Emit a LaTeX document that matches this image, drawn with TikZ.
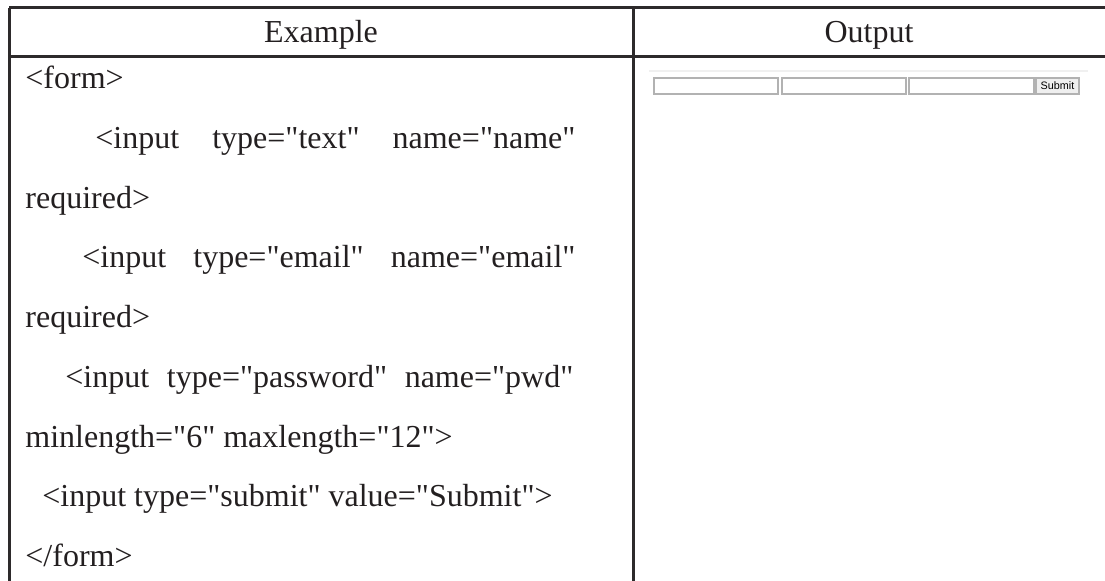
\documentclass[tikz,border=0pt]{standalone}
\usepackage{fontspec}
\setmainfont{Liberation Serif}[Ligatures=TeXOff]
\newfontfamily\uifont{Liberation Sans}
\usetikzlibrary{positioning}
\definecolor{TabInk}{RGB}{35,31,32}
\definecolor{TabRule}{RGB}{45,42,43}
\definecolor{FormEdge}{RGB}{178,178,178}
\definecolor{FormShade}{RGB}{239,239,239}
\definecolor{FormRule}{RGB}{240,240,240}

\begin{document}
\begin{tikzpicture}[
    x=0.5pt,y=-0.5pt,
    rule/.style={draw=TabRule,line width=1.5pt},
    head/.style={anchor=base,inner sep=0pt,text=TabInk,font=\fontsize{16}{19}\selectfont},
    code/.style={anchor=base west,inner sep=0pt,text=TabInk,font=\fontsize{16}{19}\selectfont},
    field/.style={draw=FormEdge,line width=0.6pt,fill=white},
    button/.style={draw=FormEdge,line width=0.6pt,fill=FormShade,inner sep=0pt,font=\uifont\fontsize{5.4}{6}\selectfont}
  ]
    \useasboundingbox (0,0) rectangle (1105,581);
    % table rules
    \draw[rule] (9,8) -- (1105,8);
    \draw[rule] (9,57) -- (1105,57);
    \draw[rule] (9,8) -- (9,581);
    \draw[rule] (633,8) -- (633,581);
    % headers
    \node[head] (hdrexample) at (321,43) {Example};
    \node[head] (hdroutput) at (869,43) {Output};
    % code lines
    \node[code] (code1) at (25,89) {<form>};
    \node[code] (code2) at (95,149) {\makebox[240pt][s]{<input type="text" name="name"}};
    \node[code] (code3) at (25,209) {required>};
    \node[code] (code4) at (82,268) {\makebox[246.5pt][s]{<input type="email" name="email"}};
    \node[code] (code5) at (25,328) {required>};
    \node[code] (code6) at (65,388) {\makebox[254pt][s]{<input type="password" name="pwd"}};
    \node[code] (code7) at (25,448) {minlength="6" maxlength="12">};
    \node[code] (code8) at (42,507) {<input type="submit" value="Submit">};
    \node[code] (code9) at (25,567) {</form>};
    % rendered form
    \draw[draw=FormRule,line width=1pt] (649,71) -- (1088,71);
    \draw[field] (654,78) rectangle (778,94);
    \draw[field] (782,78) rectangle (906,94);
    \draw[field] (909,78) rectangle (1034,94);
    \node[button,minimum width=21.5pt,minimum height=8pt] (submitbtn) at (1057.5,86) {Submit};
  \end{tikzpicture}
\end{document}
